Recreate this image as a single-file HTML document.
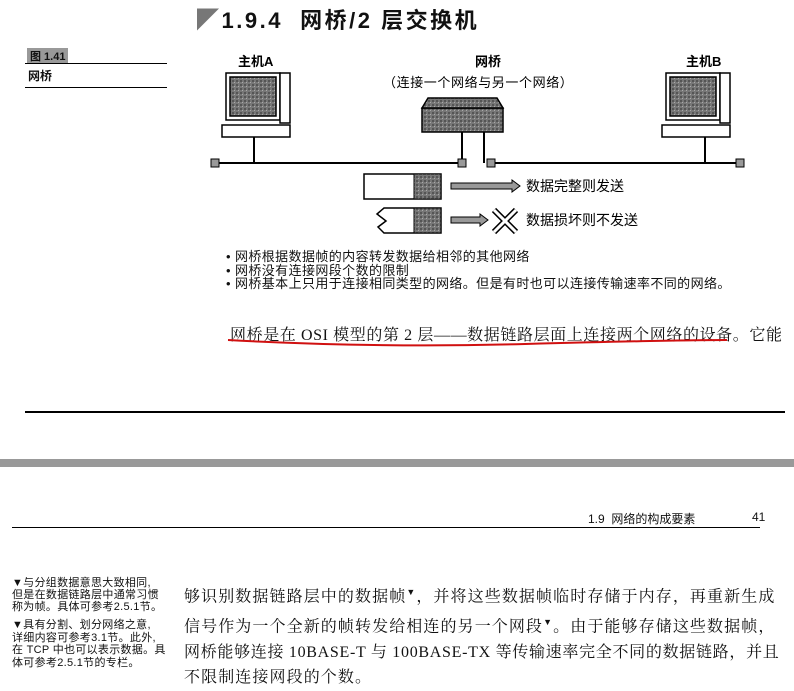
<!DOCTYPE html>
<html><head><meta charset="utf-8"><style>
body{margin:0;width:794px;height:680px;background:#fff;position:relative;overflow:hidden;font-family:"Liberation Sans","Noto Sans CJK SC",sans-serif;color:#111}
.a{position:absolute;white-space:nowrap}
.t{font-family:"Liberation Serif","Noto Serif CJK SC",serif;font-size:16px}
</style></head><body>
<div class="a" style="left:197px;top:3px;font-size:22px;font-weight:bold;letter-spacing:2.5px"><span style="color:#777">◤</span>1.9.4&nbsp;&nbsp;网桥/2 层交换机</div>
<div class="a" style="left:27px;top:48px;font-size:11px;background:#999;padding:0 3px;font-weight:bold">图 1.41</div>
<div class="a" style="left:25px;top:63px;width:142px;border-top:1px solid #000"></div>
<div class="a" style="left:28px;top:67px;font-size:12px;font-weight:bold">网桥</div>
<div class="a" style="left:25px;top:87px;width:142px;border-top:1px solid #000"></div>

<svg class="a" style="left:0;top:0" width="794" height="300">
<defs><pattern id="g" width="4" height="4" patternUnits="userSpaceOnUse"><rect width="4" height="4" fill="#777"/><rect width="2" height="2" fill="#555"/><rect x="2" y="2" width="1" height="1" fill="#aaa"/></pattern></defs>
<g font-size="13" font-weight="bold" font-family="Liberation Sans,Noto Sans CJK SC,sans-serif">
<text x="238" y="66">主机A</text><text x="686" y="66">主机B</text>
<text x="475" y="66">网桥</text><text x="383" y="87" font-weight="normal" letter-spacing="0.6">（连接一个网络与另一个网络）</text>
</g>
<g stroke="#000" stroke-width="1.5" fill="#fff">
<rect x="226" y="73" width="54" height="47"/><rect x="230" y="77" width="46" height="39" fill="url(#g)"/>
<rect x="280" y="73" width="10" height="50"/><rect x="222" y="125" width="68" height="12"/>
<rect x="422" y="108" width="81" height="24" fill="url(#g)"/><path d="M428 98 H497 L503 108 H422 Z" fill="url(#g)"/>
<rect x="666" y="73" width="54" height="47"/><rect x="670" y="77" width="46" height="39" fill="url(#g)"/>
<rect x="720" y="73" width="10" height="50"/><rect x="662" y="125" width="68" height="12"/>
</g>
<g stroke="#000" stroke-width="2">
<line x1="254" y1="137" x2="254" y2="163"/><line x1="462" y1="132" x2="462" y2="163"/><line x1="484" y1="132" x2="484" y2="163"/><line x1="705" y1="137" x2="705" y2="163"/>
<line x1="215" y1="163" x2="462" y2="163"/><line x1="489" y1="163" x2="740" y2="163"/>
</g>
<g fill="#999" stroke="#000"><rect x="211" y="159" width="8" height="8"/><rect x="458" y="159" width="8" height="8"/><rect x="487" y="159" width="8" height="8"/><rect x="736" y="159" width="8" height="8"/></g>
<rect x="364" y="174" width="77" height="25" fill="#fff" stroke="#000" stroke-width="1.5"/><rect x="414" y="174" width="27" height="25" fill="url(#g)" stroke="#000"/>
<path d="M384 208 H441 V233 H384 L378 227 L386 221 L377 214 Z" fill="#fff" stroke="#000" stroke-width="1.5"/><rect x="414" y="208" width="27" height="25" fill="url(#g)" stroke="#000"/>
<path d="M451 183 H512 V180 L520 186 L512 192 V189 H451 Z" fill="#999" stroke="#000"/>
<path d="M451 217 H480 V214 L488 220 L480 226 V223 H451 Z" fill="#999" stroke="#000"/>
<path d="M494 210 L516 232 M516 210 L494 232" stroke="#000" stroke-width="6"/><path d="M494 210 L516 232 M516 210 L494 232" stroke="#fff" stroke-width="3"/>
<g font-size="14" font-family="Liberation Sans,Noto Sans CJK SC,sans-serif"><text x="526" y="191">数据完整则发送</text><text x="526" y="225">数据损坏则不发送</text></g>
</svg>
<div class="a" style="left:226px;top:250px;font-size:13px;line-height:13.5px;letter-spacing:0.4px">• 网桥根据数据帧的内容转发数据给相邻的其他网络<br>• 网桥没有连接网段个数的限制<br>• 网桥基本上只用于连接相同类型的网络。但是有时也可以连接传输速率不同的网络。</div>
<div class="a t" style="left:230px;top:322px;font-size:16px;letter-spacing:0.6px">网桥是在 OSI 模型的第 2 层——数据链路层面上连接两个网络的设备。它能</div>
<svg class="a" style="left:225px;top:330px" width="520" height="20"><path d="M3 10 Q150 18 300 14 T502 10" stroke="#d01010" stroke-width="2" fill="none"/></svg>
<div class="a" style="left:25px;top:411px;width:760px;border-top:2px solid #000"></div>
<div class="a" style="left:0;top:459px;width:794px;height:8px;background:#999"></div>
<div class="a" style="left:588px;top:510px;font-size:12px">1.9&nbsp;&nbsp;网络的构成要素</div>
<div class="a" style="left:752px;top:510px;font-size:12px">41</div>
<div class="a" style="left:12px;top:527px;width:748px;border-top:1px solid #000"></div>
<div class="a" style="left:12px;top:577px;font-size:11px;line-height:12px;letter-spacing:0.3px">▼与分组数据意思大致相同,<br>但是在数据链路层中通常习惯<br>称为帧。具体可参考2.5.1节。</div>
<div class="a" style="left:12px;top:619px;font-size:11px;line-height:12.5px;letter-spacing:0.3px">▼具有分割、划分网络之意,<br>详细内容可参考3.1节。此外,<br>在 TCP 中也可以表示数据。具<br>体可参考2.5.1节的专栏。</div>
<div class="a t" style="left:184px;top:580px;line-height:25.5px;letter-spacing:1.1px">够识别数据链路层中的数据帧<sup style="font-size:9px">▼</sup>，并将这些数据帧临时存储于内存，再重新生成<br>信号作为一个全新的帧转发给相连的另一个网段<sup style="font-size:9px">▼</sup>。由于能够存储这些数据帧，<br><span style="letter-spacing:0.7px">网桥能够连接 10BASE-T 与 100BASE-TX 等传输速率完全不同的数据链路，并且</span><br>不限制连接网段的个数。</div>
</body></html>
